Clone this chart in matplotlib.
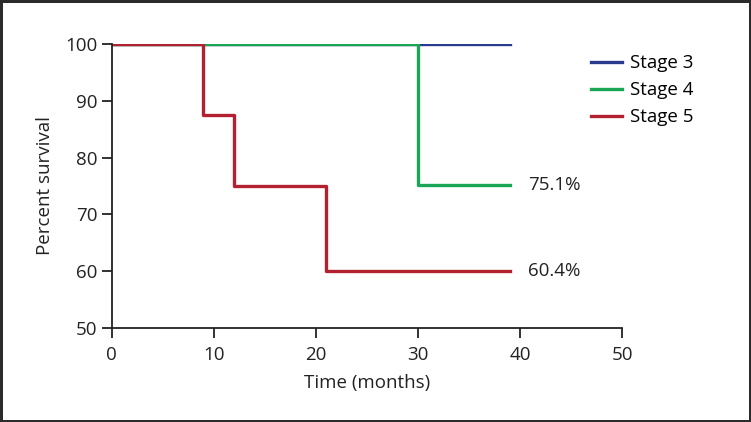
import matplotlib.pyplot as plt

plt.rcParams['font.family'] = ['Open Sans', 'DejaVu Sans']

# step data (time in months, percent survival)
t3 = [0, 39]
s3 = [100, 100]
t4 = [0, 30, 39]
s4 = [100, 75.1, 75.1]
t5 = [0, 9, 12, 21, 39]
s5 = [100, 87.5, 75, 60, 60]
labels = ['Stage 3', 'Stage 4', 'Stage 5']
colors = ['#2a3b8f', '#1aa656', '#b3202f']
end_notes = ['75.1%', '60.4%']

txt = '#222222'
fs = 13.5

fig = plt.figure(figsize=(7.51, 4.22), dpi=100, edgecolor='#2b2b2b', linewidth=2.5)
ax = fig.add_axes([0.1485, 0.2227, 0.68, 0.673])

ax.step(t3, s3, where='post', color=colors[0], lw=2.4, label=labels[0])
ax.step(t4, s4, where='post', color=colors[1], lw=2.4, label=labels[1])
ax.step(t5, s5, where='post', color=colors[2], lw=2.4, label=labels[2])

ax.text(t4[-1] + 1.8, s4[-1], end_notes[0], va='center', ha='left', fontsize=fs, color=txt)
ax.text(t5[-1] + 1.8, s5[-1], end_notes[1], va='center', ha='left', fontsize=fs, color=txt)

ax.set_xlim(0, 50)
ax.set_ylim(50, 100)
ax.set_xticks([0, 10, 20, 30, 40, 50])
ax.set_yticks([50, 60, 70, 80, 90, 100])
ax.spines['top'].set_visible(False)
ax.spines['right'].set_visible(False)
for s in ['left', 'bottom']:
    ax.spines[s].set_linewidth(1.3)
    ax.spines[s].set_color(txt)
ax.tick_params(axis='both', labelsize=fs, colors=txt, width=1.3, length=7, pad=3)
ax.tick_params(axis='x', pad=6)
ax.set_xlabel('Time (months)', fontsize=fs, color=txt, labelpad=7)
ax.set_ylabel('Percent survival', fontsize=fs, color=txt, labelpad=8)

ax.legend(loc='upper left', bbox_to_anchor=(0.787, 0.871), bbox_transform=fig.transFigure,
          frameon=False, fontsize=fs, borderpad=0, borderaxespad=0,
          handlelength=1.65, handletextpad=0.45, labelspacing=0.47)

fig.savefig('out.png', dpi=100, edgecolor=fig.get_edgecolor())
